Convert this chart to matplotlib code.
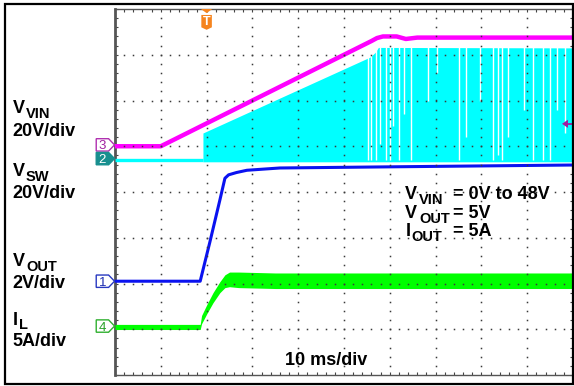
import numpy as np
import matplotlib
matplotlib.use('Agg')
import matplotlib.pyplot as plt
from matplotlib.patches import Polygon, Rectangle

plt.rcParams['font.family'] = ['Liberation Sans', 'DejaVu Sans']

W, H = 574, 386

# ---- scope channel settings: ground offset (divisions) and scale (units/div)
off_vout, sc_vout = 2.05, 2.0    # CH1
off_vsw, sc_vsw = 4.70, 20.0     # CH2
off_vin, sc_vin = 5.00, 20.0     # CH3
off_il, sc_il = 1.05, 5.0        # CH4

# ---- CH3: VIN (V) vs time (ms)
vin_t = [0, 10.0, 56.0, 57.2, 58.5, 61.5, 63.5, 66.0, 100]
vin_v = [0, 0, 46.0, 47.3, 48.0, 48.0, 46.9, 47.5, 47.5]

# ---- CH2: VSW idle level, then switching envelope (V)
sw_idle_t = [0, 19.2]
sw_idle_v = [0, 0]
sw_t = [19.2, 55.7, 56.8, 57.5, 100]
sw_top = [11.8, 45.0, 47.0, 49.2, 49.0]
sw_low = [-0.8, -0.8, -0.8, -0.8, -0.8]
# skipped-pulse gaps: time (ms) and lowest voltage reached by gap (V)
gap_t = [55.2, 55.9, 57.0, 57.9, 59.2, 60.0, 60.7, 62.0, 63.1, 64.6, 68.3,
         70.3, 75.1, 76.6, 79.7, 82.5, 83.6, 84.5, 85.8, 89.3, 91.3, 93.4,
         95.0, 96.5, 98.3]
gap_low = [0, 0, 0, 7, 0, 0, 15, 0, 20, 0, 26,
           38, 0, 10, 26, 0, 2, 0, 10, 22, 0, 0,
           0, 22, 12]

# ---- CH1: VOUT (V)
vo_t = [0, 18.6, 20.7, 22.9, 24.0, 24.8, 26.5, 28.8, 36.0, 60.0, 100]
vo_v = [0, 0, 1.7, 3.55, 4.5, 4.65, 4.75, 4.85, 4.95, 5.0, 5.08]

# ---- CH4: IL (A) with ripple band half-width (A)
il_t = [0, 18.6, 18.9, 20.1, 21.4, 22.9, 24.0, 25.0, 27.0, 35.0, 100]
il_a = [0, 0, 0.8, 2.0, 3.2, 4.35, 5.0, 5.2, 5.15, 5.05, 5.05]
il_rip = [0.28, 0.28, 0.45, 0.5, 0.55, 0.6, 0.7, 0.8, 0.85, 0.85, 0.85]

trig_t = 20.0
trig_level_v = 9.8

fig = plt.figure(figsize=(W / 100, H / 100), dpi=100)
fig.patch.set_facecolor('white')
ax = fig.add_axes([115 / W, 11 / H, 458 / W, 366 / H])
ax.set_xlim(0, 100)
ax.set_ylim(0, 8)
ax.set_facecolor('white')

# traces
ax.fill_between(sw_t, off_vsw + np.array(sw_low) / sc_vsw,
                off_vsw + np.array(sw_top) / sc_vsw,
                color='#00FFFF', lw=0, zorder=2)
ax.vlines(gap_t, off_vsw + np.array(gap_low) / sc_vsw, off_vsw + 49.6 / sc_vsw,
          color='white', lw=1.0, zorder=2.5)
ax.plot(sw_idle_t, off_vsw + np.array(sw_idle_v) / sc_vsw, color='#00FFFF',
        lw=2.4, zorder=3, solid_capstyle='butt')
ax.plot(vin_t, off_vin + np.array(vin_v) / sc_vin, color='#FF00FF', lw=3.2,
        zorder=4, solid_joinstyle='round')
ax.plot(vo_t, off_vout + np.array(vo_v) / sc_vout, color='#0A12F0', lw=2.2,
        zorder=4, solid_joinstyle='round')
il = np.array(il_a)
rip = np.array(il_rip)
ax.fill_between(il_t, off_il + (il - rip) / sc_il, off_il + (il + rip) / sc_il,
                color='#00FF00', lw=0, zorder=4)

# graticule dots
gx, gy = [], []
for xv in range(10, 100, 10):
    for yv in np.arange(0.2, 8.0, 0.2):
        gx.append(xv); gy.append(yv)
for yv in range(1, 8):
    for xv in np.arange(2, 100, 2):
        gx.append(xv); gy.append(yv)
ax.plot(gx, gy, ls='none', marker='s', ms=1.1, mew=0, color='#3a3a3a', zorder=6)

ax.set_xticks(np.arange(0, 101, 10))
ax.set_xticks(np.arange(0, 101, 2), minor=True)
ax.set_yticks(np.arange(0, 9, 1))
ax.set_yticks(np.arange(0, 8.01, 0.2), minor=True)
ax.tick_params(which='both', direction='in', length=2.5, width=0.8,
               color='#444444', top=True, right=True,
               labelbottom=False, labelleft=False)
for s in ['top', 'bottom', 'right']:
    ax.spines[s].set(color='#555555', lw=1.0, linestyle=(0, (1, 1)))
ax.spines['left'].set(color='#555555', lw=2.0)

# channel markers
def ch_marker(y, label, edge, face, tcol):
    hh = 0.135
    pts = [(-4.1, y - hh), (-1.4, y - hh), (-0.1, y), (-1.4, y + hh),
           (-4.1, y + hh)]
    ax.add_patch(Polygon(pts, closed=True, facecolor=face, edgecolor=edge,
                         lw=1.0, clip_on=False, zorder=7))
    ax.text(-2.75, y, label, color=tcol, fontsize=9.5, ha='center',
            va='center_baseline', clip_on=False, zorder=8)

ch_marker(off_vin + 0.03, '3', '#B030B0', 'white', '#A020A0')
ch_marker(off_vsw + 0.03, '2', '#178F8F', '#178F8F', 'white')
ch_marker(off_vout, '1', '#2838C0', 'white', '#2030B0')
ch_marker(off_il + 0.02, '4', '#30B030', 'white', '#28A028')

# trigger time marker
tc = '#F5841F'
ax.add_patch(Polygon([(trig_t - 1.25, 8.0), (trig_t + 1.25, 8.0),
                      (trig_t, 7.91)], closed=True, color=tc, lw=0,
                     clip_on=False, zorder=8))
ax.add_patch(Polygon([(trig_t - 1.15, 7.87), (trig_t + 1.15, 7.87),
                      (trig_t + 1.15, 7.60), (trig_t, 7.545),
                      (trig_t - 1.15, 7.60)], closed=True, color=tc, lw=0,
                     zorder=8))
ax.text(trig_t, 7.72, 'T', color='white', fontsize=9, fontweight='bold',
        ha='center', va='center', zorder=9)

# trigger level arrow (right edge)
lvl = off_vin + trig_level_v / sc_vin
ax.add_patch(Polygon([(97.6, lvl), (98.9, lvl + 0.09), (98.9, lvl - 0.09)],
                     closed=True, color='#A01CA0', lw=0, zorder=8))
ax.plot([98.7, 99.9], [lvl, lvl], color='#A01CA0', lw=1.3, zorder=8)

# outer frame
fig.patches.append(Rectangle((4.5 / W, 1 - 384 / H), 568.5 / W, 380 / H,
                             transform=fig.transFigure, fill=False,
                             edgecolor='black', lw=1.6, zorder=10))

def t(px, py, s, size):
    fig.text(px / W, 1 - py / H, s, fontsize=size, fontweight='bold',
             ha='left', va='baseline')

# left labels
t(12.5, 113, 'V', 13); t(26, 118, 'VIN', 10.5); t(12, 136, '20V/div', 13)
t(12.5, 176, 'V', 13); t(26, 181, 'SW', 10.5); t(12, 198, '20V/div', 13)
t(12.5, 266, 'V', 13); t(26, 271, 'OUT', 10.5); t(12, 288, '2V/div', 13)
t(13, 325, 'I', 13); t(18.5, 329, 'L', 10.5); t(12, 346, '5A/div', 13)

# right annotations
t(405, 199, 'V', 13); t(419, 204, 'VIN', 10.5); t(453, 199, '= 0V to 48V', 13)
t(405, 218, 'V', 13); t(419, 223, 'OUT', 10.5); t(453, 218, '= 5V', 13)
t(406, 236, 'I', 13); t(411, 241, 'OUT', 10.5); t(453, 236, '= 5A', 13)

t(285, 365, '10 ms/div', 13)

fig.savefig('out.png', dpi=100)
